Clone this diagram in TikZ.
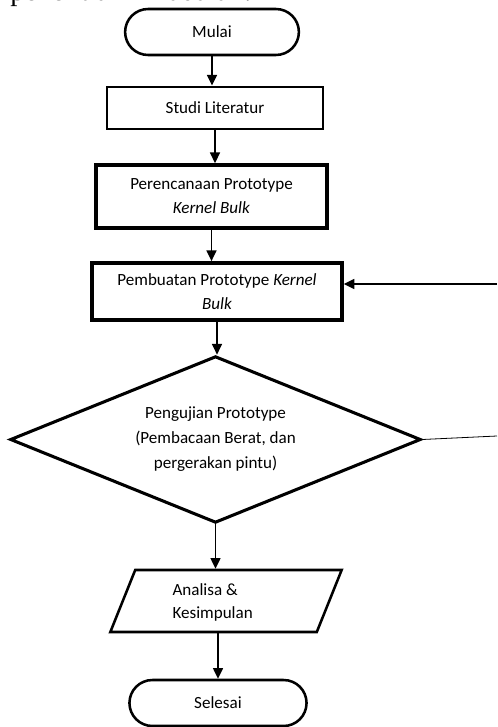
\documentclass[tikz,border=0pt]{standalone}
\usepackage{fontspec}
\setmainfont{Carlito}
\newfontfamily\paragraffont{Liberation Serif}
\usetikzlibrary{shapes.geometric,shapes.misc,arrows.meta}

\begin{document}
\begin{tikzpicture}[x=0.75pt,y=-0.75pt,
    font=\fontsize{12.8}{18}\selectfont,
    terminal/.style={rounded rectangle,draw,line width=1.9pt,minimum width=137pt,minimum height=34.5pt},
    proses/.style={rectangle,draw,align=center,inner sep=0pt},
    panah/.style={-{Triangle[length=8pt,width=7.5pt]},line width=1.1pt}]
        \useasboundingbox (0,0) rectangle (497,727);
        \node[font=\paragraffont\fontsize{21.6}{24}\selectfont,anchor=base west,inner sep=0pt] (kalimat) at (10,0.5) {penelitian ini adalah:};
        \node[terminal] (mulai) at (212,32) {Mulai};
        \node[proses,line width=2.2pt,minimum width=162pt,minimum height=31.5pt] (studi) at (215,108) {Studi Literatur};
        \node[proses,line width=3pt,minimum width=173pt,minimum height=47pt] (rencana) at (211.5,196.5) {Perencanaan Prototype\\\textit{Kernel Bulk}};
        \node[proses,line width=2.6pt,minimum width=187.5pt,minimum height=43pt] (buat) at (217,291.5) {Pembuatan Prototype \textit{Kernel}\\\textit{Bulk}};
        \node[diamond,draw,line width=2.3pt,aspect=2.46,inner sep=0pt,minimum width=308pt,minimum height=125pt,align=center,font=\fontsize{12.8}{18.75}\selectfont] (uji) at (215.5,439.5) {Pengujian Prototype\\(Pembacaan Berat, dan\\pergerakan pintu)};
        \node[trapezium,trapezium left angle=53,trapezium right angle=127,trapezium stretches=true,draw,line width=1.9pt,inner sep=0pt,minimum width=174pt,minimum height=46.5pt] (analisa) at (226,601) {\phantom{Kesimpulan}};
        \node[align=left,font=\fontsize{12.8}{17}\selectfont] (analisateks) at ([xshift=-10pt,yshift=-1pt]analisa.center) {Analisa \&\\Kesimpulan};
        \node[terminal,minimum width=139.5pt] (selesai) at (218,703) {Selesai};
        \coordinate (kanan1) at (497,436);
        \coordinate (kanan2) at (497,284);
        \draw[panah] (mulai.south) -- (mulai.south |- studi.north);
        \draw[panah] (studi.south) -- (studi.south |- rencana.north);
        \draw[panah] (rencana.south) -- (rencana.south |- buat.north);
        \draw[panah] (buat.south) -- (buat.south |- uji.north);
        \draw[panah] (uji.south) -- (uji.south |- analisa.north);
        \draw[panah] (analisa.south -| selesai.north) -- (selesai.north);
        \draw[line width=0.6pt] (uji.east) -- (kanan1);
        \draw[panah] (kanan2) -- (kanan2 -| buat.east);
\end{tikzpicture}
\end{document}
